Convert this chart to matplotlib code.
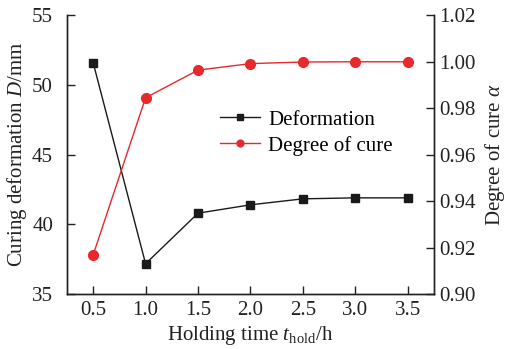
import matplotlib
matplotlib.use("Agg")
import matplotlib.pyplot as plt

hold_time = [0.5, 1.0, 1.5, 2.0, 2.5, 3.0, 3.5]
deformation = [51.6, 37.17, 40.8, 41.4, 41.83, 41.9, 41.9]
degree_cure = [0.9168, 0.9845, 0.9964, 0.9992, 0.9999, 1.0, 1.0]

plt.rcParams['font.family'] = ['Liberation Serif', 'DejaVu Serif']
plt.rcParams['mathtext.fontset'] = 'custom'
plt.rcParams['mathtext.it'] = 'Liberation Serif:italic'
plt.rcParams['mathtext.rm'] = 'Liberation Serif'

fig = plt.figure(figsize=(5.07, 3.49), dpi=100)
ax = fig.add_axes([0.132, 0.1576, 0.724, 0.7985])
ax2 = ax.twinx()

fs = 15
l1, = ax.plot(hold_time, deformation, color='#1a1a1a', lw=1.0, marker='s', ms=6,
              label='Deformation')
l2, = ax2.plot(hold_time, degree_cure, color='#e8282a', lw=1.0, marker='o', ms=7,
               label='Degree of cure')

ax.set_xlim(0.25, 3.75)
ax.set_ylim(35, 55)
ax2.set_ylim(0.90, 1.02)
ax.set_xticks(hold_time)
ax.set_xticklabels(['0.5', '1.0', '1.5', '2.0', '2.5', '3.0', '3.5'])
ax.set_yticks([35, 40, 45, 50, 55])
ax2.set_yticks([0.90, 0.92, 0.94, 0.96, 0.98, 1.00, 1.02])
ax2.set_yticklabels(['0.90', '0.92', '0.94', '0.96', '0.98', '1.00', '1.02'])

for a in (ax, ax2):
    a.spines['top'].set_visible(False)
    for s in a.spines.values():
        s.set_linewidth(1.0)
        s.set_color('#222222')
ax.tick_params(axis='x', direction='in', length=6, width=1.0, labelsize=fs,
               colors='#222222', pad=5)
ax.tick_params(axis='y', direction='in', length=6, width=1.0, labelsize=fs,
               colors='#222222', pad=10)
ax2.tick_params(axis='y', direction='in', length=6, width=1.0, labelsize=fs,
                colors='#222222', pad=4)

ax.set_xlabel(r'Holding time $t_{\mathrm{hold}}$/h', fontsize=fs, color='#222222', labelpad=3)
ax.set_ylabel(r'Curing deformation $D$/mm', fontsize=fs, color='#222222', labelpad=2)
ax2.set_ylabel(r'Degree of cure $\alpha$', fontsize=fs, color='#222222', labelpad=5)

leg = ax2.legend(handles=[l1, l2], loc='upper left', bbox_to_anchor=(0.395, 0.69),
                 frameon=False, fontsize=fs, markerscale=0.7, handlelength=1.9,
                 handletextpad=0.4, labelspacing=0.3, borderaxespad=0)

fig.savefig('out.png', dpi=100)
